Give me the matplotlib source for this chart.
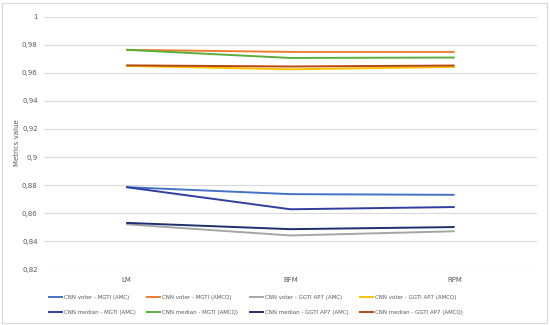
import matplotlib.pyplot as plt
from matplotlib.patches import Rectangle
from matplotlib.ticker import FuncFormatter

categories = ['LM', 'BFM', 'RPM']

voter_mgti_amc = [0.8785, 0.8735, 0.873]
voter_mgti_amcq = [0.9765, 0.975, 0.975]
voter_ggti_amc = [0.852, 0.844, 0.847]
voter_ggti_amcq = [0.965, 0.9626, 0.9643]
median_mgti_amc = [0.8785, 0.8627, 0.8643]
median_mgti_amcq = [0.9765, 0.9707, 0.971]
median_ggti_amc = [0.853, 0.8485, 0.850]
median_ggti_amcq = [0.9654, 0.9646, 0.9653]

series = [
    ('CNN voter - MGTI (AMC)', voter_mgti_amc, '#4472C4'),
    ('CNN median - MGTI (AMC)', median_mgti_amc, '#2F3FA0'),
    ('CNN voter - MGTI (AMCQ)', voter_mgti_amcq, '#ED7D31'),
    ('CNN median - MGTI (AMCQ)', median_mgti_amcq, '#5AAE3C'),
    ('CNN voter - GGTI AP7 (AMC)', voter_ggti_amc, '#A5A5A5'),
    ('CNN median - GGTI AP7 (AMC)', median_ggti_amc, '#1F2E6E'),
    ('CNN voter - GGTI AP7 (AMCQ)', voter_ggti_amcq, '#FFC000'),
    ('CNN median - GGTI AP7 (AMCQ)', median_ggti_amcq, '#B5470F'),
]

fig = plt.figure(figsize=(5.5, 3.25), dpi=100)
ax = fig.add_axes([0.08, 0.172, 0.896, 0.776])

x = range(len(categories))
for label, vals, color in series:
    ax.plot(x, vals, color=color, lw=1.4, label=label,
            solid_capstyle='butt')

ax.set_xlim(-0.5, 2.5)
ax.set_ylim(0.82, 1.0)
ax.set_yticks([0.82 + 0.02 * i for i in range(10)])
ax.yaxis.set_major_formatter(FuncFormatter(
    lambda v, p: ('%g' % round(v, 2)).replace('.', ',')))
ax.set_xticks(list(x))
ax.set_xticklabels(categories)
ax.grid(axis='y', color='#D9D9D9', lw=0.8)
ax.set_axisbelow(True)
for s in ax.spines.values():
    s.set_visible(False)
ax.tick_params(length=0, labelsize=5, colors='#595959', pad=4.5)
ax.tick_params(axis='x', pad=6)
ax.set_ylabel('Metrics value', fontsize=5, color='#595959')
ax.yaxis.set_label_coords(-0.048, 0.5)

# reference legend is filled row by row; matplotlib fills columns
handles, labels = ax.get_legend_handles_labels()
fig.legend(handles, labels,
           loc='center', bbox_to_anchor=(0.464, 0.062), ncol=4,
           frameon=False, fontsize=4.0, handlelength=2.7, handletextpad=0.2,
           columnspacing=1.9, labelspacing=1.9, labelcolor='#595959')

fig.patches.append(Rectangle((0.004, 0.006), 0.99, 0.985,
                             transform=fig.transFigure, fill=False,
                             edgecolor='#D9D9D9', lw=0.8))

fig.savefig('out.png', dpi=100)
